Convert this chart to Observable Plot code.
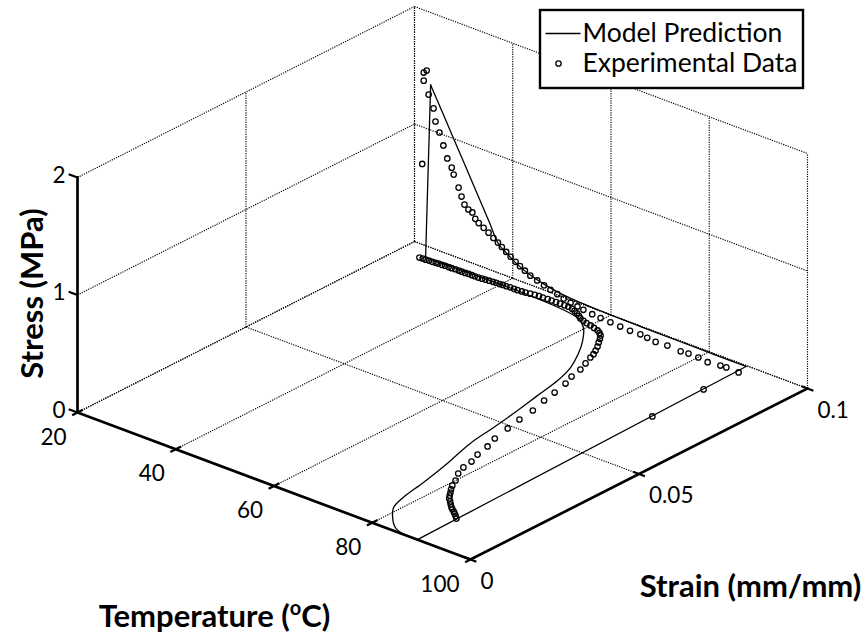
<!DOCTYPE html>
<html><head><meta charset="utf-8">
<script src="https://cdn.jsdelivr.net/npm/d3@7"></script>
<script src="https://cdn.jsdelivr.net/npm/@observablehq/plot@0.6"></script>
<style>
html,body{margin:0;padding:0;background:#fff;}
#chart{width:865px;height:641px;overflow:hidden;}
</style></head><body><div id="chart"></div>
<script>
// ---------- axis ticks / titles ----------
const tempTicks = [20, 40, 60, 80, 100];
const strainTicks = [0, 0.05, 0.1];
const stressTicks = [0, 1, 2];
const tempTitle = "Temperature (oC)";
const strainTitle = "Strain (mm/mm)";
const stressTitle = "Stress (MPa)";
const legendLabels = ["Model Prediction", "Experimental Data"];

// ---------- experimental data (loading, cooling, unloading, heating) ----------
const expTemp = [
  89.2, 89.2, 89.2,
  86.7, 85.5, 82.9, 81.0, 79.0, 77.4, 74.7, 72.3, 70.6, 69.2, 67.1, 65.1, 63.1, 61.1, 59.4, 57.6,
  56.4, 55.0, 53.6, 52.3, 50.9, 49.6, 48.2, 46.8, 45.7, 44.7, 43.8, 42.8, 41.9, 41.0, 40.2, 39.3,
  38.3, 37.3, 36.3, 35.6, 35.0, 34.2, 33.4, 32.8, 32.2, 31.2, 30.8, 29.9, 29.1, 28.3, 27.5, 27.1,
  26.1, 25.1, 25.7,
  25.1, 25.0,
  24.3, 24.9, 25.5, 26.1, 26.8, 27.4, 27.9, 28.6, 29.2, 29.9, 30.5, 31.2, 31.9, 32.5, 33.2, 33.8,
  34.5, 35.1, 35.8, 36.5, 37.1, 37.8, 38.5, 39.1, 39.8, 40.4, 41.1, 41.8, 42.6, 43.3, 44.1, 44.8,
  45.6, 46.4, 47.2, 48.0, 48.9, 49.7, 50.6, 51.4, 52.3, 53.1, 54.0, 54.8, 55.6, 56.4, 57.2, 58.1,
  59.0, 60.0, 61.0, 62.0, 62.8, 63.5, 64.2, 64.9, 65.7, 66.4, 67.0, 67.4, 68.2, 69.0, 69.6, 70.5,
  71.3, 71.9, 72.9, 73.4, 74.1, 74.9, 75.9, 76.6, 77.5, 77.9, 78.7, 80.0, 80.8, 81.5, 82.2, 82.8,
  83.4, 84.2, 85.0, 85.7, 86.3, 87.0, 87.5, 88.2, 88.9
];
const expStrain = [
  0.0697, 0.0849, 0.0953,
  0.0953, 0.0953, 0.0953, 0.0953, 0.0953, 0.0953, 0.0953, 0.0953, 0.0953, 0.0953, 0.0953, 0.0953,
  0.0953, 0.0953, 0.0953, 0.0953, 0.0953, 0.0953, 0.0953, 0.0953, 0.0953, 0.0953, 0.0953, 0.0953,
  0.0953, 0.0953, 0.0953, 0.0953, 0.0953, 0.0953, 0.0953, 0.0953, 0.0953, 0.0953, 0.0953, 0.0953,
  0.0953, 0.0953, 0.0953, 0.0953, 0.0953, 0.0953, 0.0953, 0.0953, 0.0953, 0.0953, 0.0953, 0.0953,
  0.0953, 0.0953, 0.0953,
  0.0953, 0.0950,
  0.0952, 0.0953, 0.0953, 0.0954, 0.0954, 0.0955, 0.0956, 0.0956, 0.0957, 0.0957, 0.0957, 0.0958,
  0.0958, 0.0958, 0.0958, 0.0959, 0.0959, 0.0959, 0.0959, 0.0960, 0.0961, 0.0962, 0.0963, 0.0964,
  0.0964, 0.0965, 0.0965, 0.0966, 0.0966, 0.0966, 0.0967, 0.0968, 0.0970, 0.0972, 0.0973, 0.0973,
  0.0974, 0.0974, 0.0974, 0.0974, 0.0974, 0.0974, 0.0972, 0.0968, 0.0963, 0.0957, 0.0950, 0.0946,
  0.0942, 0.0939, 0.0935, 0.0931, 0.0925, 0.0918, 0.0906, 0.0892, 0.0877, 0.0861, 0.0846, 0.0831,
  0.0805, 0.0778, 0.0743, 0.0712, 0.0668, 0.0628, 0.0580, 0.0533, 0.0488, 0.0438, 0.0402, 0.0362,
  0.0331, 0.0301, 0.0274, 0.0247, 0.0226, 0.0212, 0.0200, 0.0189, 0.0179, 0.0170, 0.0160, 0.0152,
  0.0146, 0.0140, 0.0135, 0.0128, 0.0120
];
const expStress = [
  0.034, 0.043, 0.036,
  0.040, 0.037, 0.025, 0.035, 0.037, 0.031, 0.038, 0.032, 0.040, 0.048, 0.045, 0.050, 0.055, 0.060,
  0.066, 0.075, 0.085, 0.095, 0.108, 0.125, 0.140, 0.158, 0.178, 0.197, 0.222, 0.245, 0.268, 0.295,
  0.322, 0.350, 0.375, 0.400, 0.430, 0.455, 0.480, 0.505, 0.550, 0.563, 0.592, 0.651, 0.718, 0.813,
  0.866, 0.930, 1.028, 1.126, 1.207, 1.312, 1.414, 1.586, 1.612,
  1.517, 0.811,
  0, 0, 0, 0, 0, 0, 0, 0, 0, 0, 0, 0, 0, 0, 0, 0, 0, 0, 0, 0, 0, 0, 0, 0, 0, 0, 0, 0, 0, 0, 0, 0,
  0, 0, 0, 0, 0, 0, 0, 0, 0, 0, 0, 0, 0, 0, 0, 0, 0, 0, 0, 0, 0, 0, 0, 0, 0, 0, 0, 0, 0, 0, 0, 0,
  0, 0, 0, 0, 0, 0, 0, 0, 0, 0, 0, 0, 0, 0, 0, 0, 0, 0, 0, 0, 0, 0, 0, 0, 0, 0, 0, 0, 0, 0, 0
];

// ---------- model prediction (one path per step) ----------
const modelStep = [
  "load", "load",
  "cool", "cool", "cool", "cool", "cool", "cool", "cool", "cool", "cool", "cool", "cool", "cool",
  "cool", "cool", "cool", "cool", "cool",
  "unload", "unload",
  "heat", "heat", "heat", "heat", "heat", "heat", "heat", "heat", "heat", "heat", "heat", "heat",
  "heat", "heat", "heat", "heat", "heat", "heat", "heat"
];
const modelTemp = [
  89.2, 89.2,
  89.2, 80.0, 70.0, 62.0, 56.0, 52.0, 48.8, 45.0, 42.5, 40.5, 38.8, 37.0, 35.8, 33.5, 30.1, 27.5, 25.0,
  25.0, 25.0,
  25.0, 57.0, 59.9, 62.6, 65.1, 67.4, 68.9, 70.0, 71.1, 72.2, 73.2, 75.1, 76.7, 77.8, 79.0, 81.2,
  83.8, 86.0, 89.2
];
const modelStrain = [
  0, 0.0975,
  0.0975, 0.0975, 0.0975, 0.0975, 0.0975, 0.0975, 0.0975, 0.0975, 0.0975, 0.0975, 0.0975, 0.0975,
  0.0975, 0.0975, 0.0975, 0.0975, 0.0975,
  0.0975, 0.0960,
  0.0960, 0.0947, 0.0920, 0.0878, 0.0829, 0.0772, 0.0712, 0.0636, 0.0561, 0.0475, 0.0388, 0.0294,
  0.0200, 0.0124, 0.0078, 0.0043, 0.0013, 0.0002, 0
];
const modelStress = [
  0, 0.055,
  0.055, 0.056, 0.058, 0.062, 0.070, 0.083, 0.105, 0.150, 0.200, 0.255, 0.311, 0.461, 0.560, 0.750,
  1.029, 1.243, 1.447,
  1.447, 0,
  0, 0, 0, 0, 0, 0, 0, 0, 0, 0, 0, 0, 0, 0, 0, 0, 0, 0, 0
];

// ---------- 3-D view (MATLAB-like oblique projection, in px) ----------
const tempDomain = [20, 100], strainDomain = [0, 0.1], stressDomain = [0, 2];
const view = {ox: 77, oy: 412, tx: 393, ty: 147, ex: 337, ey: -171, sz: 117.5};
function P(T, e, s) {
  const u = (T - tempDomain[0]) / (tempDomain[1] - tempDomain[0]);
  const v = (e - strainDomain[0]) / (strainDomain[1] - strainDomain[0]);
  return [view.ox + u * view.tx + v * view.ex, view.oy + u * view.ty + v * view.ey - s * view.sz];
}
const seg = (a, b) => { const p = P(...a), q = P(...b); return {x1: p[0], y1: p[1], x2: q[0], y2: q[1]}; };

const [T0, T1] = tempDomain, [E0, E1] = strainDomain, [S0, S1] = stressDomain;
const grid = [];
tempTicks.forEach(t => grid.push(seg([t, E0, S0], [t, E1, S0])));          // floor
strainTicks.forEach(e => grid.push(seg([T0, e, S0], [T1, e, S0])));
strainTicks.forEach(e => grid.push(seg([T0, e, S0], [T0, e, S1])));        // back-left wall
stressTicks.forEach(s => grid.push(seg([T0, E0, s], [T0, E1, s])));
tempTicks.forEach(t => grid.push(seg([t, E1, S0], [t, E1, S1])));          // back-right wall
stressTicks.forEach(s => grid.push(seg([T0, E1, s], [T1, E1, s])));

const axes = [
  seg([T0, E0, S0], [T1, E0, S0]),
  seg([T1, E0, S0], [T1, E1, S0]),
  seg([T0, E0, S0], [T0, E0, S1])
];
const ticks = [
  ...tempTicks.map(t => seg([t, E0 - 0.0016, S0], [t, E0 + 0.0016, S0])),
  ...strainTicks.map(e => seg([T1 - 1.2, e, S0], [T1 + 1.2, e, S0])),
  ...stressTicks.map(s => seg([T0, E0, s], [T0 - 1.8, E0, s]))
];

const expPts = expTemp.map((t, i) => { const p = P(t, expStrain[i], expStress[i]); return {x: p[0], y: p[1]}; });
const modelPts = modelTemp.map((t, i) => { const p = P(t, modelStrain[i], modelStress[i]); return {x: p[0], y: p[1], z: modelStep[i]}; });

const FONT = "Lato, 'Open Sans', sans-serif";
const tickFont = {fontFamily: FONT, fontSize: 22.5, fill: "#000"};
const legendFont = {fontFamily: FONT, fontSize: 26.5, fill: "#000"};
const titleFont = {fontFamily: FONT, fontSize: 31, fontWeight: "bold", fill: "#000"};

// legend box layout
const lg = {x1: 540, y1: 10, x2: 803, y2: 88, row1: 33, row2: 63, textX: 582};

const chart = Plot.plot({
  width: 865, height: 641, margin: 0,
  x: {type: "identity", axis: null},
  y: {type: "identity", axis: null},
  style: {background: "#fff", fontFamily: FONT},
  marks: [
    Plot.link(grid, {x1: "x1", y1: "y1", x2: "x2", y2: "y2", stroke: "#000", strokeWidth: 1.15, strokeDasharray: "1.2,1.2"}),
    Plot.link(axes, {x1: "x1", y1: "y1", x2: "x2", y2: "y2", stroke: "#000", strokeWidth: 2.7, strokeLinecap: "square"}),
    Plot.link(ticks, {x1: "x1", y1: "y1", x2: "x2", y2: "y2", stroke: "#000", strokeWidth: 2.2}),
    Plot.text(tempTicks, {x: d => P(d, E0, S0)[0] - 11, y: d => P(d, E0, S0)[1] + 25, text: d => String(d), textAnchor: "end", ...tickFont}),
    Plot.text(strainTicks, {x: d => P(T1, d, S0)[0] + 10, y: d => P(T1, d, S0)[1] + 22, text: d => String(d), textAnchor: "start", ...tickFont}),
    Plot.text(stressTicks, {x: d => P(T0, E0, d)[0] - 12, y: d => P(T0, E0, d)[1] - 2, text: d => String(d), textAnchor: "end", ...tickFont}),
    Plot.line(modelPts, {x: "x", y: "y", z: "z", stroke: "#000", strokeWidth: 1.3, curve: "catmull-rom"}),
    Plot.dot(expPts, {x: "x", y: "y", r: 2.7, stroke: "#000", strokeWidth: 1.3, fill: "none"}),
    Plot.text([tempTitle], {x: 214, y: 617, text: d => d, className: "temp-title", ...titleFont}),
    Plot.text([strainTitle], {x: 750, y: 587, text: d => d, ...titleFont}),
    Plot.text([stressTitle], {x: 33, y: 293, text: d => d, rotate: -90, ...titleFont}),
    // legend
    Plot.rect([lg], {x1: "x1", y1: "y1", x2: "x2", y2: "y2", fill: "#fff", stroke: "#000", strokeWidth: 2.4}),
    Plot.link([lg], {x1: d => d.x1 + 5, x2: d => d.textX - 2, y1: "row1", y2: "row1", stroke: "#000", strokeWidth: 1.3}),
    Plot.dot([lg], {x: d => d.x1 + 18, y: "row2", r: 2.7, stroke: "#000", strokeWidth: 1.3, fill: "none"}),
    Plot.text(legendLabels, {x: lg.textX, y: (d, i) => i === 0 ? lg.row1 : lg.row2, text: d => d, textAnchor: "start", ...legendFont})
  ]
});
document.getElementById("chart").appendChild(chart);

// superscript "o" in the temperature title
const tt = chart.querySelector(".temp-title text");
if (tt) {
  const full = tt.textContent;
  const k = full.indexOf("(o");
  tt.textContent = "";
  const ns = "http://www.w3.org/2000/svg";
  const a = document.createElementNS(ns, "tspan"); a.textContent = full.slice(0, k + 1);
  const b = document.createElementNS(ns, "tspan"); b.textContent = "o"; b.setAttribute("dy", "-12"); b.setAttribute("font-size", "20");
  const c = document.createElementNS(ns, "tspan"); c.textContent = full.slice(k + 2); c.setAttribute("dy", "12");
  tt.append(a, b, c);
}
</script>
</body></html>
